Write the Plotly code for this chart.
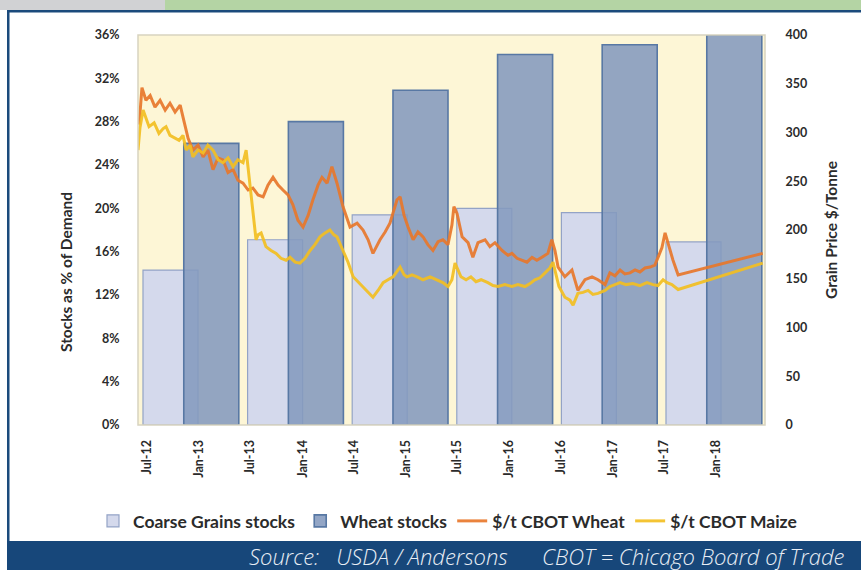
import plotly.graph_objects as go

# ---------------- data ----------------
years = ["2012/13", "2013/14", "2014/15", "2015/16", "2016/17", "2017/18"]
coarse_stocks = [0.143, 0.171, 0.194, 0.200, 0.196, 0.169]
wheat_stocks = [0.260, 0.280, 0.309, 0.342, 0.351, 0.360]

wheat_dates = [
    "2012-06-03", "2012-06-13", "2012-06-27", "2012-07-12", "2012-07-29", "2012-08-16",
    "2012-09-03", "2012-09-20", "2012-10-08", "2012-10-26", "2012-11-09", "2012-11-23",
    "2012-12-10", "2012-12-28", "2013-01-15", "2013-02-01", "2013-02-19", "2013-03-09",
    "2013-03-26", "2013-04-13", "2013-05-01", "2013-05-18", "2013-06-05", "2013-06-23",
    "2013-07-10", "2013-07-28", "2013-08-15", "2013-09-01", "2013-09-19", "2013-10-07",
    "2013-10-24", "2013-11-11", "2013-11-28", "2013-12-16", "2014-01-03", "2014-01-21",
    "2014-02-07", "2014-02-25", "2014-03-11", "2014-03-29", "2014-04-15", "2014-05-03",
    "2014-05-24", "2014-06-18", "2014-07-13", "2014-08-03", "2014-08-21", "2014-09-07",
    "2014-10-02", "2014-10-20", "2014-11-06", "2014-12-01", "2014-12-12", "2014-12-26",
    "2015-01-09", "2015-01-27", "2015-02-13", "2015-03-03", "2015-03-20", "2015-04-07",
    "2015-04-25", "2015-05-12", "2015-05-30", "2015-06-13", "2015-06-20", "2015-07-01",
    "2015-07-19", "2015-08-09", "2015-08-26", "2015-09-13", "2015-10-08", "2015-10-25",
    "2015-11-12", "2015-12-07", "2015-12-28", "2016-01-11", "2016-01-29", "2016-02-16",
    "2016-03-04", "2016-03-22", "2016-04-08", "2016-04-26", "2016-05-17", "2016-05-31",
    "2016-06-11", "2016-06-22", "2016-07-16", "2016-08-10", "2016-08-31", "2016-09-25",
    "2016-10-20", "2016-11-10", "2016-12-05", "2016-12-22", "2017-01-09", "2017-01-27",
    "2017-02-13", "2017-03-03", "2017-03-21", "2017-04-07", "2017-04-25", "2017-05-13",
    "2017-05-30", "2017-06-13", "2017-06-24", "2017-07-05", "2017-07-15", "2017-08-02",
    "2017-08-20", "2018-06-15",
]
wheat_price = [
    308, 346, 333, 338, 326, 333,
    323, 330, 321, 328, 311, 294,
    282, 287, 275, 282, 262, 274,
    272, 259, 262, 251, 248, 241,
    243, 236, 234, 246, 254, 246,
    241, 236, 226, 210, 203, 215,
    231, 246, 254, 248, 265, 248,
    224, 203, 207, 200, 190, 176,
    190, 198, 207, 231, 234, 215,
    203, 190, 198, 193, 185, 179,
    188, 190, 185, 205, 224, 217,
    193, 187, 172, 187, 190, 183,
    187, 179, 174, 176, 171, 169,
    167, 172, 169, 172, 176, 190,
    179, 162, 152, 159, 138, 149,
    152, 149, 144, 156, 153, 159,
    155, 156, 159, 157, 161, 162,
    164, 174, 182, 197, 187, 169,
    154, 176,
]

maize_dates = [
    "2012-05-30", "2012-06-06", "2012-06-17", "2012-06-27", "2012-07-08", "2012-07-26",
    "2012-08-12", "2012-08-27", "2012-09-06", "2012-09-20", "2012-10-01", "2012-10-22",
    "2012-11-05", "2012-11-16", "2012-11-30", "2012-12-10", "2012-12-28", "2013-01-15",
    "2013-02-01", "2013-02-19", "2013-03-09", "2013-03-26", "2013-04-13", "2013-05-01",
    "2013-05-18", "2013-06-05", "2013-06-16", "2013-06-26", "2013-07-10", "2013-07-21",
    "2013-07-28", "2013-08-08", "2013-08-25", "2013-09-12", "2013-09-30", "2013-10-17",
    "2013-11-04", "2013-11-18", "2013-12-06", "2013-12-23", "2014-01-10", "2014-01-28",
    "2014-02-14", "2014-03-04", "2014-03-22", "2014-04-08", "2014-04-22", "2014-05-03",
    "2014-05-24", "2014-06-11", "2014-06-29", "2014-07-16", "2014-08-03", "2014-08-21",
    "2014-09-07", "2014-09-25", "2014-10-13", "2014-10-30", "2014-11-17", "2014-12-12",
    "2014-12-26", "2015-01-05", "2015-01-23", "2015-02-10", "2015-03-03", "2015-03-28",
    "2015-04-21", "2015-05-12", "2015-05-30", "2015-06-13", "2015-06-24", "2015-07-04",
    "2015-07-15", "2015-08-02", "2015-08-19", "2015-09-06", "2015-09-24", "2015-10-18",
    "2015-11-05", "2015-11-23", "2015-12-17", "2016-01-11", "2016-02-01", "2016-02-26",
    "2016-03-15", "2016-04-01", "2016-04-19", "2016-05-07", "2016-05-24", "2016-06-04",
    "2016-06-15", "2016-06-25", "2016-07-16", "2016-08-03", "2016-08-14", "2016-08-31",
    "2016-09-18", "2016-10-06", "2016-10-23", "2016-11-10", "2016-12-05", "2016-12-22",
    "2017-01-09", "2017-01-27", "2017-02-17", "2017-03-13", "2017-04-07", "2017-05-02",
    "2017-05-23", "2017-06-10", "2017-06-28", "2017-07-12", "2017-07-29", "2017-08-20",
    "2018-06-15",
]
maize_price = [
    282, 305, 323, 315, 306, 310,
    299, 304, 306, 297, 295, 292,
    297, 282, 287, 275, 282, 279,
    287, 282, 272, 269, 274, 265,
    272, 269, 282, 256, 217, 190,
    195, 197, 183, 179, 176, 171,
    169, 172, 167, 166, 171, 179,
    185, 193, 197, 200, 195, 193,
    179, 167, 152, 147, 142, 136,
    131, 138, 146, 149, 152, 162,
    154, 152, 154, 152, 149, 152,
    149, 146, 142, 149, 166, 159,
    152, 149, 152, 147, 149, 146,
    143, 142, 144, 142, 144, 142,
    145, 149, 151, 156, 161, 167,
    154, 142, 131, 128, 123, 135,
    136, 138, 134, 135, 138, 142,
    144, 146, 144, 145, 143, 146,
    144, 143, 149, 146, 144, 139,
    166,
]

date_ticks = ["2012-07-01", "2013-01-01", "2013-07-01", "2014-01-01", "2014-07-01",
              "2015-01-01", "2015-07-01", "2016-01-01", "2016-07-01", "2017-01-01",
              "2017-07-01", "2018-01-01"]

# ---------------- layout helpers ----------------
W, H = 861, 570
PL, PR, PT, PB = 138, 765, 35, 425


def px(x):
    return (x - PL) / (PR - PL)


def py(y):
    return (PB - y) / (PB - PT)


FONT = "Lato, 'Open Sans', sans-serif"
TXT = "#2b2b2b"
NB = "\u00a0"

idx = list(range(len(years)))
coarse_x = [i for i in idx]
wheat_x = [i + 0.39 for i in idx]

fig = go.Figure()

fig.add_trace(go.Bar(
    x=coarse_x, y=coarse_stocks, width=0.526, name="Coarse Grains stocks",
    marker=dict(color="#D4D9EC", line=dict(color="#93A3C6", width=1.2)),
    xaxis="x", yaxis="y", hovertext=years,
))
fig.add_trace(go.Bar(
    x=wheat_x, y=wheat_stocks, width=0.526, name="Wheat stocks",
    marker=dict(color="rgba(132,154,190,0.88)", line=dict(color="#5878A4", width=1.6)),
    xaxis="x", yaxis="y", hovertext=years,
))
fig.add_trace(go.Scatter(
    x=wheat_dates, y=wheat_price, mode="lines", name="$/t CBOT Wheat",
    line=dict(color="#E8782C", width=3), opacity=0.92,
    xaxis="x2", yaxis="y2",
))
fig.add_trace(go.Scatter(
    x=maize_dates, y=maize_price, mode="lines", name="$/t CBOT Maize",
    line=dict(color="#F3BF22", width=3), opacity=0.92,
    xaxis="x2", yaxis="y2",
))

shapes = [
    # top strips
    dict(type="rect", xref="paper", yref="paper", x0=px(0), x1=px(165), y0=py(10), y1=py(0),
         fillcolor="#D1D2D4", line=dict(width=0), layer="below"),
    dict(type="rect", xref="paper", yref="paper", x0=px(165), x1=px(861), y0=py(10), y1=py(0),
         fillcolor="#B4D4A4", line=dict(width=0), layer="below"),
    # blue frame lines
    dict(type="rect", xref="paper", yref="paper", x0=px(7), x1=px(861), y0=py(12.5), y1=py(10),
         fillcolor="#1B4A7C", line=dict(width=0), layer="below"),
    dict(type="rect", xref="paper", yref="paper", x0=px(7), x1=px(9.5), y0=py(541), y1=py(10),
         fillcolor="#1B4A7C", line=dict(width=0), layer="below"),
    # footer
    dict(type="rect", xref="paper", yref="paper", x0=px(7), x1=px(861), y0=py(570), y1=py(541),
         fillcolor="#17477A", line=dict(width=0), layer="below"),
    # plot frame
    dict(type="rect", xref="paper", yref="paper", x0=0, x1=1, y0=0, y1=1,
         line=dict(color="#D8D3C0", width=1.5), fillcolor="rgba(0,0,0,0)", layer="above"),
]

footer = ("Source:" + NB * 3 + "USDA / Andersons" + NB * 6 + "CBOT = Chicago Board of Trade")

annotations = [
    dict(text="Stocks as % of Demand", xref="paper", yref="paper", x=px(66), y=py(272),
         textangle=-90, showarrow=False, font=dict(family=FONT, size=15.5, color=TXT, weight="bold"),
         xanchor="center", yanchor="middle"),
    dict(text="Grain Price $/Tonne", xref="paper", yref="paper", x=px(831), y=py(230),
         textangle=-90, showarrow=False, font=dict(family=FONT, size=15.5, color=TXT, weight="bold"),
         xanchor="center", yanchor="middle"),
    dict(text=footer,
         xref="paper", yref="paper", x=px(247), y=py(556), showarrow=False,
         xanchor="left", yanchor="middle",
         font=dict(family="'Open Sans', sans-serif", size=22, color="#E9EEF5",
                   style="italic", weight=300)),
]

fig.update_layout(
    width=W, height=H,
    margin=dict(l=PL, r=W - PR, t=PT, b=H - PB, pad=0, autoexpand=False),
    paper_bgcolor="white",
    plot_bgcolor="#FDF6D6",
    barmode="overlay",
    showlegend=True,
    legend=dict(orientation="h", xref="paper", yref="paper",
                x=px(93), y=py(521),
                xanchor="left", yanchor="middle",
                font=dict(family=FONT, size=17.5, color=TXT, weight="bold"), bgcolor="rgba(0,0,0,0)",
                itemwidth=30, tracegroupgap=0),
    xaxis=dict(range=[(PL - 170.5) / 104.6, (PR - 170.5) / 104.6], showticklabels=False,
               showgrid=False, zeroline=False, ticks="", showline=False, fixedrange=True),
    yaxis=dict(range=[0, 0.36], dtick=0.04, tickformat=".0%", side="left",
               showgrid=False, zeroline=False, showline=False,
               ticks="outside", ticklen=15, tickcolor="rgba(0,0,0,0)",
               tickfont=dict(family=FONT, size=12.5, color=TXT, weight="bold")),
    xaxis2=dict(type="date", overlaying="x", side="bottom",
                range=["2012-05-30", "2018-06-23"],
                tickvals=date_ticks, tickformat="%b-%y", tickangle=-90,
                showgrid=False, zeroline=False, showline=False,
                ticks="outside", ticklen=9, tickcolor="rgba(0,0,0,0)",
                tickfont=dict(family=FONT, size=12.5, color=TXT, weight="bold")),
    yaxis2=dict(range=[0, 400], dtick=50, overlaying="y", side="right",
                showgrid=False, zeroline=False, showline=False,
                ticks="outside", ticklen=17, tickcolor="rgba(0,0,0,0)",
                tickfont=dict(family=FONT, size=12.5, color=TXT, weight="bold")),
    shapes=shapes,
    annotations=annotations,
)

fig.write_html(
    "out.html",
    config={"displayModeBar": False},
    post_script="document.body.style.margin='0px';document.body.style.overflow='hidden';",
)
